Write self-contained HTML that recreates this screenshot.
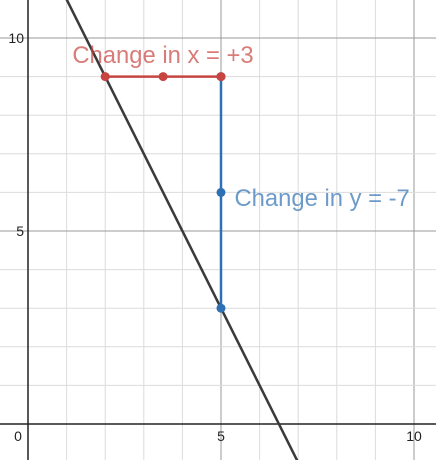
<!DOCTYPE html>
<html><head><meta charset="utf-8"><style>
html,body{margin:0;padding:0;background:#fff;}
svg{display:block;font-family:"Liberation Sans",Arial,sans-serif;}
</style></head><body>
<svg id="chart" width="436" height="460" viewBox="0 0 436 460" xmlns="http://www.w3.org/2000/svg"></svg>
<script>
const xTicks=[0,5,10];
const yTicks=[5,10];
const lineSlope=[-2];
const lineIntercept=[13];
const runPoints=[[2,9],[3.5,9],[5,9]];
const risePoints=[[5,9],[5,6],[5,3]];
const labels=["Change in x = +3","Change in y = -7"];
const labelAnchors=[[1.15,9.35],[5.35,5.65]];

const NS="http://www.w3.org/2000/svg";
const svg=document.getElementById('chart');
const X0=28,Y0=424,U=38.6;
const sx=v=>X0+v*U, sy=v=>Y0-v*U;
function el(t,a){const e=document.createElementNS(NS,t);for(const k in a)e.setAttribute(k,a[k]);svg.appendChild(e);return e;}

for(let i=-1;i<=11;i++){
  const g=el('line',{x1:sx(i),x2:sx(i),y1:0,y2:460,stroke:i%5===0?'#999':'#dcdcdc','stroke-width':1});
  
  
}
for(let j=-1;j<=12;j++){
  const g=el('line',{x1:0,x2:436,y1:sy(j),y2:sy(j),stroke:j%5===0?'#999':'#dcdcdc','stroke-width':1});
  
  
}
const ax=el('line',{x1:sx(0),x2:sx(0),y1:0,y2:460,stroke:'#222','stroke-width':1.5});


const ay=el('line',{x1:0,x2:436,y1:sy(0),y2:sy(0),stroke:'#222','stroke-width':1.5});



xTicks.forEach(v=>{
  const t=el('text',{x:v===0?sx(0)-10:sx(v),y:Y0+17,'font-size':14,'text-anchor':'middle',fill:'#222'});
  t.textContent=v;
  
  
});
yTicks.forEach(v=>{
  const t=el('text',{x:X0-4,y:sy(v)+5,'font-size':14,'text-anchor':'end',fill:'#222'});
  t.textContent=v;
  
  
});

const m=lineSlope[0],b=lineIntercept[0];
const xa=(11.5-b)/m, xb=(-1.5-b)/m;
const ln=el('line',{x1:sx(xa),y1:sy(11.5),x2:sx(xb),y2:sy(-1.5),stroke:'#3a3a3a','stroke-width':2.5});



const r0=runPoints[0],r1=runPoints[runPoints.length-1];
const rs=el('line',{x1:sx(r0[0]),y1:sy(r0[1]),x2:sx(r1[0]),y2:sy(r1[1]),stroke:'#c74440','stroke-width':2.5});


const q0=risePoints[0],q1=risePoints[risePoints.length-1];
const qs=el('line',{x1:sx(q0[0]),y1:sy(q0[1]),x2:sx(q1[0]),y2:sy(q1[1]),stroke:'#2d70b3','stroke-width':2.5});



risePoints.forEach(p=>{
  const c=el('circle',{cx:sx(p[0]),cy:sy(p[1]),r:4.5,fill:'#2d70b3'});
  
  
});
runPoints.forEach(p=>{
  const c=el('circle',{cx:sx(p[0]),cy:sy(p[1]),r:4.5,fill:'#c74440'});
  
  
});

const lx=el('text',{x:sx(labelAnchors[0][0]),y:sy(labelAnchors[0][1]),'font-size':23.8,fill:'#c74440','fill-opacity':0.7});
lx.textContent=labels[0];


const lyt=el('text',{x:sx(labelAnchors[1][0]),y:sy(labelAnchors[1][1]),'font-size':23.8,fill:'#2d70b3','fill-opacity':0.7});
lyt.textContent=labels[1];


</script>
</body></html>
